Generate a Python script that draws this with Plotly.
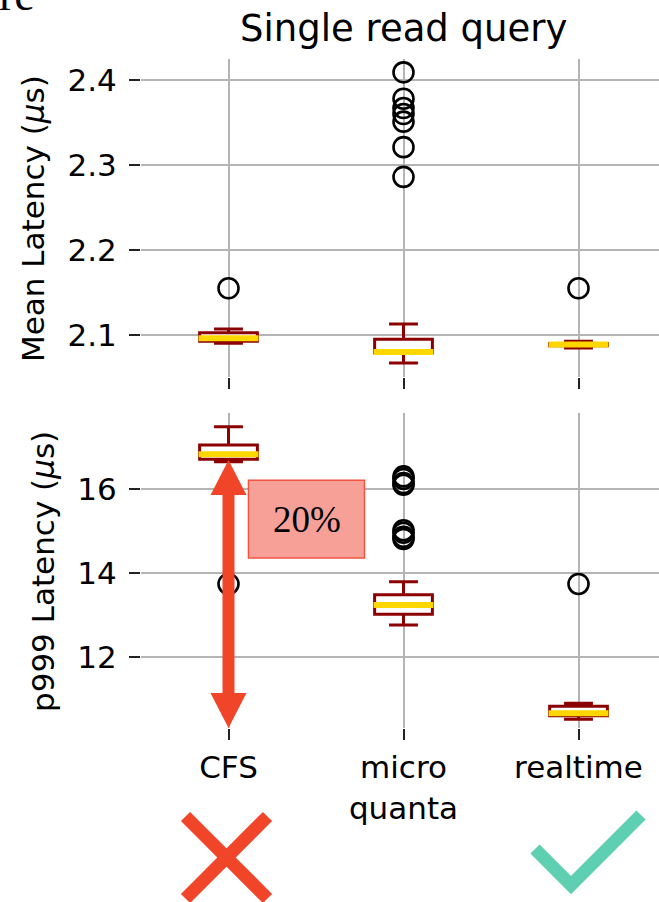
import plotly.graph_objects as go

# ---- data -------------------------------------------------------------
positions = [1, 2, 3]
categories = ["CFS", "micro<br>quanta", "realtime"]

# mean latency (us)
mean_low = [2.0902, 2.0670, 2.0848]
mean_q1 = [2.0928, 2.0790, 2.0875]
mean_median = [2.0961, 2.0800, 2.0888]
mean_q3 = [2.1027, 2.0950, 2.0900]
mean_high = [2.1071, 2.1130, 2.0928]
mean_outliers = [
    [2.155],
    [2.409, 2.378, 2.367, 2.360, 2.351, 2.321, 2.286],
    [2.155],
]

# p999 latency (us)
p999_low = [16.65, 12.76, 10.52]
p999_q1 = [16.71, 13.02, 10.60]
p999_median = [16.83, 13.24, 10.66]
p999_q3 = [17.05, 13.48, 10.83]
p999_high = [17.48, 13.79, 10.90]
p999_outliers = [
    [13.74],
    [16.30, 16.24, 16.14, 16.10, 15.02, 14.96, 14.86, 14.81],
    [13.74],
]

mean_ticks = [2.1, 2.2, 2.3, 2.4]
p999_ticks = [12, 14, 16]

# ---- geometry ---------------------------------------------------------
W, H = 659, 902
ML, MR, MT, MB = 141, 0, 59, 174
PW, PH = W - ML - MR, H - MT - MB
BOX_W = 0.33
FONT = "DejaVu Sans"
DARKRED = "#8b0000"
GOLD = "#ffd700"
GRID = "#b4b4b4"
RED = "#f1452a"
TEAL = "#5ecfb1"


def paper_x(px):
    return (px - ML) / PW


def paper_y(py):
    return (H - MB - py) / PH


fig = go.Figure()


def add_panel(xa, ya, low, q1, med, q3, high, outliers):
    fig.add_trace(go.Box(
        x=positions, q1=q1, median=med, q3=q3,
        lowerfence=low, upperfence=high,
        width=BOX_W, whiskerwidth=0.5, boxpoints=False,
        line=dict(color=DARKRED, width=3), fillcolor="white",
        xaxis=xa, yaxis=ya, showlegend=False, hoverinfo="skip",
    ))
    mx, my = [], []
    for p, m in zip(positions, med):
        mx += [p - BOX_W / 2 - 0.006, p + BOX_W / 2 + 0.006, None]
        my += [m, m, None]
    fig.add_trace(go.Scatter(
        x=mx, y=my, mode="lines", line=dict(color=GOLD, width=6),
        xaxis=xa, yaxis=ya, showlegend=False, hoverinfo="skip",
    ))
    ox, oy = [], []
    for p, vals in zip(positions, outliers):
        ox += [p] * len(vals)
        oy += vals
    fig.add_trace(go.Scatter(
        x=ox, y=oy, mode="markers",
        marker=dict(symbol="circle-open", size=20, color="black",
                    line=dict(width=2.6, color="black")),
        xaxis=xa, yaxis=ya, showlegend=False, hoverinfo="skip",
    ))


add_panel("x", "y", mean_low, mean_q1, mean_median, mean_q3, mean_high, mean_outliers)
add_panel("x2", "y2", p999_low, p999_q1, p999_median, p999_q3, p999_high, p999_outliers)

x_range = [0.5, 0.5 + PW / 175]
common_x = dict(range=x_range, tickvals=positions, showgrid=True, gridcolor=GRID,
                gridwidth=2, zeroline=False, showline=False, ticks="outside",
                ticklen=11, tickwidth=2, tickcolor="#222222")
common_y = dict(showgrid=True, gridcolor=GRID, gridwidth=2, zeroline=False,
                showline=False, ticks="outside", ticklen=11, tickwidth=2,
                tickcolor="#222222", ticklabelstandoff=6,
                tickfont=dict(family=FONT, size=31, color="black"))

top_dom = [paper_y(377), 1]
bot_dom = [0, paper_y(413)]

fig.update_layout(
    width=W, height=H,
    margin=dict(l=ML, r=MR, t=MT, b=MB),
    paper_bgcolor="white", plot_bgcolor="white",
    font=dict(family=FONT, color="black"),
    xaxis=dict(common_x, anchor="y", showticklabels=False),
    xaxis2=dict(common_x, anchor="y2", matches="x", ticktext=categories,
                ticklabelstandoff=1,
                tickfont=dict(family=FONT, size=31, color="black")),
    yaxis=dict(common_y, domain=top_dom, anchor="x", range=[2.0506, 2.4247],
               tickvals=mean_ticks, ticktext=[f"{v:.1f}" for v in mean_ticks]),
    yaxis2=dict(common_y, domain=bot_dom, anchor="x2", range=[10.31, 17.81],
                tickvals=p999_ticks, ticktext=[str(v) for v in p999_ticks]),
    boxgap=0, boxgroupgap=0,
)

annotations = [
    dict(text="Single read query", x=paper_x(403), y=paper_y(28),
         xref="paper", yref="paper", showarrow=False, xanchor="center",
         yanchor="middle", font=dict(family=FONT, size=37, color="black")),
    dict(text="Mean Latency (<i>μ</i>s)", x=paper_x(33), y=paper_y(219),
         xref="paper", yref="paper", showarrow=False, textangle=-90,
         xanchor="center", yanchor="middle",
         font=dict(family=FONT, size=31, color="black")),
    dict(text="p999 Latency (<i>μ</i>s)", x=paper_x(43), y=paper_y(572),
         xref="paper", yref="paper", showarrow=False, textangle=-90,
         xanchor="center", yanchor="middle",
         font=dict(family=FONT, size=31, color="black")),
    dict(text="re", x=paper_x(-3), y=paper_y(22), xref="paper", yref="paper",
         showarrow=False, xanchor="left", yanchor="bottom",
         font=dict(family="Liberation Serif", size=46, color="black")),
]

# ---- 20% drop annotation (bottom panel, CFS column) --------------------
px_per_unit_y2 = 42
px_per_unit_x = 175
arrow_x = positions[0]
arrow_top = 16.69
arrow_bottom = 10.31
head_len = 35 / px_per_unit_y2
head_half = 18 / px_per_unit_x
shapes = [
    dict(type="line", xref="x2", yref="y2", x0=arrow_x, x1=arrow_x,
         y0=arrow_top - head_len + 0.05, y1=arrow_bottom + head_len - 0.05,
         line=dict(color=RED, width=12)),
    dict(type="path", xref="x2", yref="y2", fillcolor=RED, line=dict(width=0),
         path=(f"M {arrow_x - head_half} {arrow_top - head_len} "
               f"L {arrow_x + head_half} {arrow_top - head_len} "
               f"L {arrow_x} {arrow_top} Z")),
    dict(type="path", xref="x2", yref="y2", fillcolor=RED, line=dict(width=0),
         path=(f"M {arrow_x - head_half} {arrow_bottom + head_len} "
               f"L {arrow_x + head_half} {arrow_bottom + head_len} "
               f"L {arrow_x} {arrow_bottom} Z")),
    dict(type="rect", xref="x2", yref="y2", x0=1.114, x1=1.777, y0=14.36, y1=16.21,
         fillcolor="#f7a098", line=dict(color="#f2553f", width=1.5)),
]
annotations.append(dict(text="20%", x=1.446, y=15.28, xref="x2", yref="y2",
                        showarrow=False, xanchor="center", yanchor="middle",
                        font=dict(family="Liberation Serif", size=37, color="black")))

# ---- verdict marks under the categories --------------------------------
cx, cy, half = 226.5, 857.5, 41
shapes += [
    dict(type="line", xref="paper", yref="paper",
         x0=paper_x(cx - half), y0=paper_y(cy - half),
         x1=paper_x(cx + half), y1=paper_y(cy + half),
         line=dict(color=RED, width=13)),
    dict(type="line", xref="paper", yref="paper",
         x0=paper_x(cx - half), y0=paper_y(cy + half),
         x1=paper_x(cx + half), y1=paper_y(cy - half),
         line=dict(color=RED, width=13)),
    dict(type="path", xref="paper", yref="paper", line=dict(color=TEAL, width=13),
         path=(f"M {paper_x(535)} {paper_y(849)} L {paper_x(571)} {paper_y(885)} "
               f"L {paper_x(641)} {paper_y(815)}")),
]

fig.update_layout(annotations=annotations, shapes=shapes)
fig.write_html("out.html")
